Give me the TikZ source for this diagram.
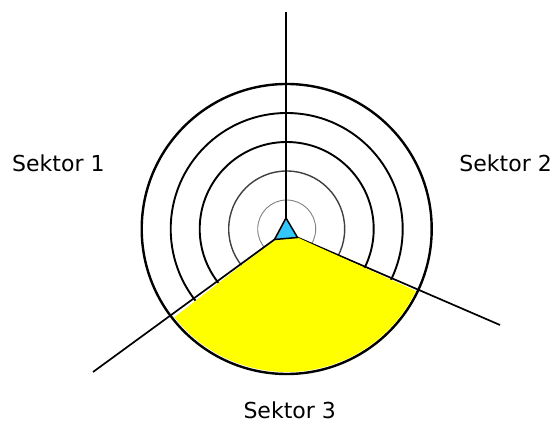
\documentclass[tikz,border=0pt]{standalone}
\usepackage{fontspec}
\setmainfont{DejaVu Sans}
\usetikzlibrary{calc}
\definecolor{triblue}{RGB}{51,199,250}
\definecolor{secyellow}{RGB}{255,255,0}
\begin{document}
\begin{tikzpicture}[x=1pt,y=1pt,
  ring/.style={draw=black,line width=1.9pt},
  ringthin/.style={draw=black!75,line width=1.4pt},
  ringthinner/.style={draw=black!50,line width=0.9pt},
  axis/.style={draw=black,line width=1.7pt},
  lbl/.style={font=\fontsize{22}{26}\selectfont,inner sep=0pt}]
\useasboundingbox (0,0) rectangle (554,422);
\coordinate (C) at (286.7,193);
\coordinate (T) at (286,204);
\coordinate (L) at (274.5,182.5);
\coordinate (R) at (297.5,184.5);
\coordinate (Top) at (286,410);
\coordinate (LE) at (93,50);
\coordinate (RE) at (500,97);
% rings
\draw[ringthinner] (C) circle[radius=29];
\draw[ringthin] (C) circle[radius=58];
\draw[ring] (C) circle[radius=87];
\draw[ring] (C) circle[radius=116];
\draw[ring,line width=2.4pt] (C) circle[radius=145];
% axes
\draw[axis] (T) -- (Top);
\draw[axis] (R) -- (RE);
% yellow sector
\fill[secyellow] (L) -- (R) -- ($(C)+(-25.7:143)$) arc[start angle=-25.7,end angle=-141.9,radius=143] -- cycle;
\draw[axis] (L) -- (LE);
% triangle
\draw[fill=triblue,line width=1.5pt,line join=round] (T) -- (R) -- (L) -- cycle;
% labels
\node[lbl,anchor=base west] (s1) at (12,250.5) {Sektor 1};
\node[lbl,anchor=base east] (s2) at (552,250.5) {Sektor 2};
\node[lbl,anchor=base] (s3) at (289.7,3.5) {Sektor 3};
\end{tikzpicture}
\end{document}
